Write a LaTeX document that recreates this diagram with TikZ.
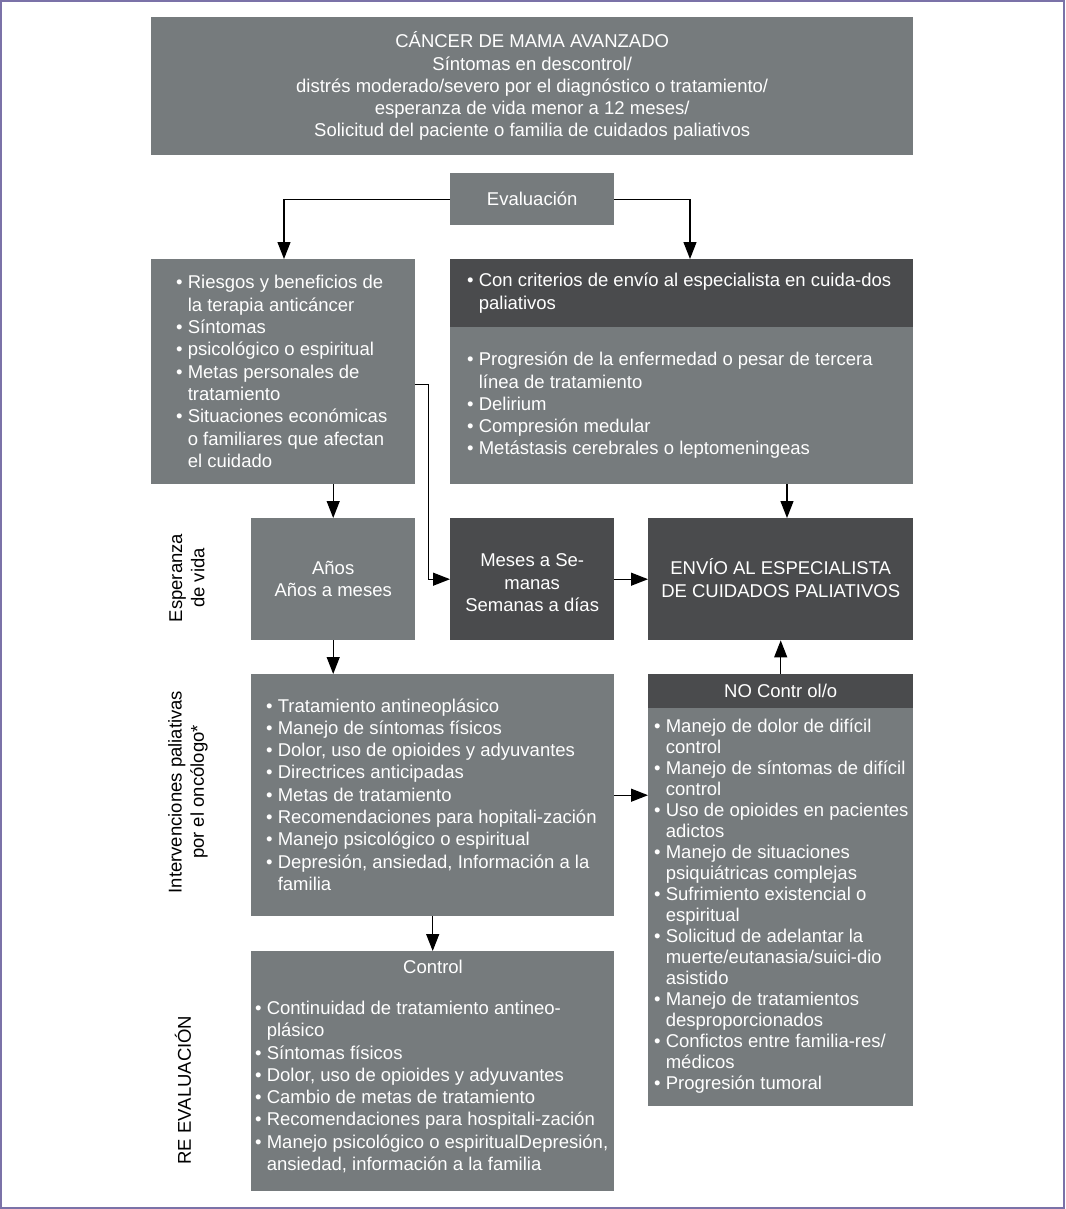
\documentclass[tikz,border=0pt]{standalone}
\usepackage{fontspec}
\setmainfont{Liberation Sans}
\usetikzlibrary{arrows.meta}
\definecolor{midgray}{HTML}{767B7D}
\definecolor{darkgray}{HTML}{4A4B4D}
\definecolor{framecol}{HTML}{7B72A8}
\newcommand{\hg}{\phantom{•\ }}
\begin{document}
\begin{tikzpicture}[x=1pt,y=-1pt,
  box/.style={fill=midgray, draw=none, inner sep=0pt, anchor=north west},
  dbox/.style={box, fill=darkgray},
  tx/.style={text=white, font=\fontsize{18.5}{22.3}\selectfont, inner sep=0pt, align=left},
  ctx/.style={tx, align=center},
  arr/.style={draw=black, line width=1.2pt, -{Triangle[length=17pt,width=13pt]}},
  side/.style={text=black, font=\fontsize{18.5}{22.3}\selectfont, rotate=90, align=center, inner sep=0pt}]
\useasboundingbox (0,0) rectangle (1065,1209);
\draw[framecol, line width=2pt] (1,1) rectangle (1064,1208);

% boxes
\node[box, minimum width=762pt, minimum height=138pt] (top) at (151,17) {};
\node[box, minimum width=164pt, minimum height=52pt] (eval) at (450,173) {};
\node[box, minimum width=264pt, minimum height=225pt] (left) at (151,259) {};
\node[dbox, minimum width=463pt, minimum height=68pt] (rhead) at (450,259) {};
\node[box, minimum width=463pt, minimum height=157pt] (rbody) at (450,327) {};
\node[box, minimum width=164pt, minimum height=122pt] (anos) at (251,518) {};
\node[dbox, minimum width=164pt, minimum height=122pt] (meses) at (450,518) {};
\node[dbox, minimum width=265pt, minimum height=122pt] (envio) at (648,518) {};
\node[box, minimum width=363pt, minimum height=242pt] (interv) at (251,674) {};
\node[dbox, minimum width=265pt, minimum height=34pt] (nohead) at (648,674) {};
\node[box, minimum width=265pt, minimum height=398pt] (nobody) at (648,708) {};
\node[box, minimum width=363pt, minimum height=240pt] (control) at (251,951) {};

% texts
\node[ctx] (toptx) at (top.center) {CÁNCER DE MAMA AVANZADO\\Síntomas en descontrol/\\distrés moderado/severo por el diagnóstico o tratamiento/\\esperanza de vida menor a 12 meses/\\Solicitud del paciente o familia de cuidados paliativos};
\node[ctx] (evaltx) at (eval.center) {Evaluación};
\node[tx, anchor=west] (lefttx) at (176,371.5) {• Riesgos y beneficios de\\\hg la terapia anticáncer\\• Síntomas\\• psicológico o espiritual\\• Metas personales de\\\hg tratamiento\\• Situaciones económicas\\\hg o familiares que afectan\\\hg el cuidado};
\node[tx, anchor=west] (rheadtx) at (467,293) {• Con criterios de envío al especialista en cuida-dos\\\hg paliativos};
\node[tx, anchor=west] (rbodytx) at (467,405.5) {• Progresión de la enfermedad o pesar de tercera\\\hg línea de tratamiento\\• Delirium\\• Compresión medular\\• Metástasis cerebrales o leptomeningeas};
\node[ctx] (anostx) at (anos.center) {Años\\Años a meses};
\node[ctx] (mesestx) at ([yshift=-3.5pt]meses.center) {Meses a Se-\\manas\\Semanas a días};
\node[ctx] (enviotx) at ([yshift=1pt]envio.center) {ENVÍO AL ESPECIALISTA\\DE CUIDADOS PALIATIVOS};
\node[tx, anchor=west] (intervtx) at (266,794.5) {• Tratamiento antineoplásico\\• Manejo de síntomas físicos\\• Dolor, uso de opioides y adyuvantes\\• Directrices anticipadas\\• Metas de tratamiento\\• Recomendaciones para hopitali-zación\\• Manejo psicológico o espiritual\\• Depresión, ansiedad, Información a la\\\hg familia};
\node[ctx] (noheadtx) at (nohead.center) {NO Contr ol/o};
\node[tx, anchor=west, font=\fontsize{18.5}{21}\selectfont] (nobodytx) at (654,906.5) {• Manejo de dolor de difícil\\\hg control\\• Manejo de síntomas de difícil\\\hg control\\• Uso de opioides en pacientes\\\hg adictos\\• Manejo de situaciones\\\hg psiquiátricas complejas\\• Sufrimiento existencial o\\\hg espiritual\\• Solicitud de adelantar la\\\hg muerte/eutanasia/suici-dio\\\hg asistido\\• Manejo de tratamientos\\\hg desproporcionados\\• Confictos entre familia-res/\\\hg médicos\\• Progresión tumoral};
\node[ctx] (controlhd) at (433,967) {Control};
\node[tx, anchor=west] (controltx) at (255,1087) {• Continuidad de tratamiento antineo-\\\hg plásico\\• Síntomas físicos\\• Dolor, uso de opioides y adyuvantes\\• Cambio de metas de tratamiento\\• Recomendaciones para hospitali-zación\\• Manejo psicológico o espiritualDepresión,\\\hg ansiedad, información a la familia};

% side labels
\node[side] (sidea) at (187,578) {Esperanza\\de vida};
\node[side] (sideb) at (188,792) {Intervenciones paliativas\\por el oncólogo*};
\node[side] (sidec) at (183,1090) {RE EVALUACIÓN};

% connectors
\draw[arr] (eval.west) -| ([xshift=133pt]left.north west);
\draw[arr] (eval.east) -| ([xshift=240pt]rhead.north west);
\draw[arr] (anos.north |- left.south) -- (anos.north);
\draw[arr] ([xshift=139pt]envio.north west |- rbody.south) -- ([xshift=139pt]envio.north west);
\draw[arr] ([yshift=-12.5pt]left.east) -- ++(13,0) |- (meses.west);
\draw[arr] (meses.east) -- (envio.west);
\draw[arr] (anos.south) -- (anos.south |- interv.north);
\draw[arr] (nohead.north) -- (envio.south);
\draw[arr] (interv.east) -- (interv.east -| nobody.west);
\draw[arr] (interv.south) -- (control.north);
\end{tikzpicture}
\end{document}
